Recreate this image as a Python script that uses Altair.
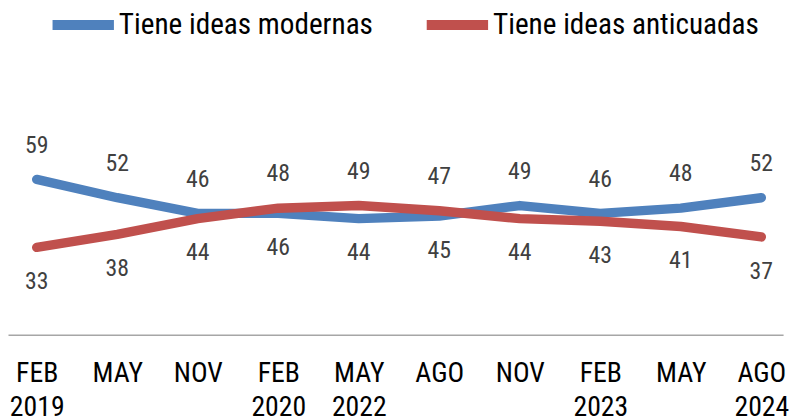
import json
import altair as alt
import pandas as pd

keys = ["FEB 2019", "MAY 2019", "NOV 2019", "FEB 2020", "MAY 2022",
        "AGO 2022", "NOV 2022", "FEB 2023", "MAY 2023", "AGO 2024"]
tick_labels = ["FEB|2019", "MAY", "NOV", "FEB|2020", "MAY|2022",
               "AGO", "NOV", "FEB|2023", "MAY", "AGO|2024"]
series_names = ["Tiene ideas modernas", "Tiene ideas anticuadas"]
modernas = [59, 52, 46, 46, 44, 45, 49, 46, 48, 52]
anticuadas = [33, 38, 44, 48, 49, 47, 44, 43, 41, 37]
colors = ["#4F81BD", "#C0504D"]

FONT = "Roboto Condensed, Liberation Sans Narrow, Roboto"

rows = []
for k, a, b in zip(keys, modernas, anticuadas):
    rows.append({"period": k, "serie": series_names[0], "value": a})
    rows.append({"period": k, "serie": series_names[1], "value": b})
df = pd.DataFrame(rows)

top = pd.DataFrame({"period": keys,
                    "value": [max(a, b) for a, b in zip(modernas, anticuadas)]})
bottom = pd.DataFrame({"period": keys,
                       "value": [min(a, b) for a, b in zip(modernas, anticuadas)]})

label_expr = "split({}[indexof({}, datum.value)], '|')".format(
    json.dumps(tick_labels), json.dumps(keys))

x_enc = alt.X("period:N", sort=keys,
              scale=alt.Scale(padding=0.3135, align=0.569),
              axis=alt.Axis(title=None, labelAngle=0, ticks=False, grid=False,
                            domainColor="#A6A6A6", domainWidth=1.5,
                            labelFontSize=28, labelColor="#000000", labelFont=FONT,
                            labelPadding=25, labelLineHeight=35,
                            labelBaseline="top", labelOverlap=False,
                            labelBound=False, labelFlush=False,
                            labelExpr=label_expr))
y_enc = alt.Y("value:Q", scale=alt.Scale(domain=[-0.42, 123.72], nice=False, zero=False),
              axis=None)

lines = alt.Chart(df).mark_line(strokeWidth=9.5, strokeCap="round",
                                strokeJoin="round").encode(
    x=x_enc, y=y_enc,
    color=alt.Color("serie:N",
                    scale=alt.Scale(domain=series_names, range=colors),
                    sort=series_names,
                    legend=alt.Legend(title=None, orient="none", direction="horizontal",
                                      legendX=36, legendY=-21,
                                      symbolType="stroke", symbolSize=3844,
                                      symbolStrokeWidth=10, symbolOffset=4,
                                      labelFontSize=29.5, labelFont=FONT,
                                      labelColor="#000000", labelOffset=0,
                                      columnPadding=34, labelLimit=400)),
    detail="serie:N",
)

txt_top = alt.Chart(top).mark_text(dy=-34, fontSize=24, color="#404040", font=FONT).encode(
    x=alt.X("period:N", sort=keys), y="value:Q", text="value:Q")
txt_bot = alt.Chart(bottom).mark_text(dy=35, fontSize=24, color="#404040", font=FONT).encode(
    x=alt.X("period:N", sort=keys), y="value:Q", text="value:Q")

chart = alt.layer(lines, txt_top, txt_bot).properties(
    width=783, height=328, autosize="none",
    padding={"left": 0, "top": 0, "right": 8, "bottom": 95},
).configure_view(stroke=None)

chart.save("out.html", embed_options={"renderer": "svg", "actions": False})
